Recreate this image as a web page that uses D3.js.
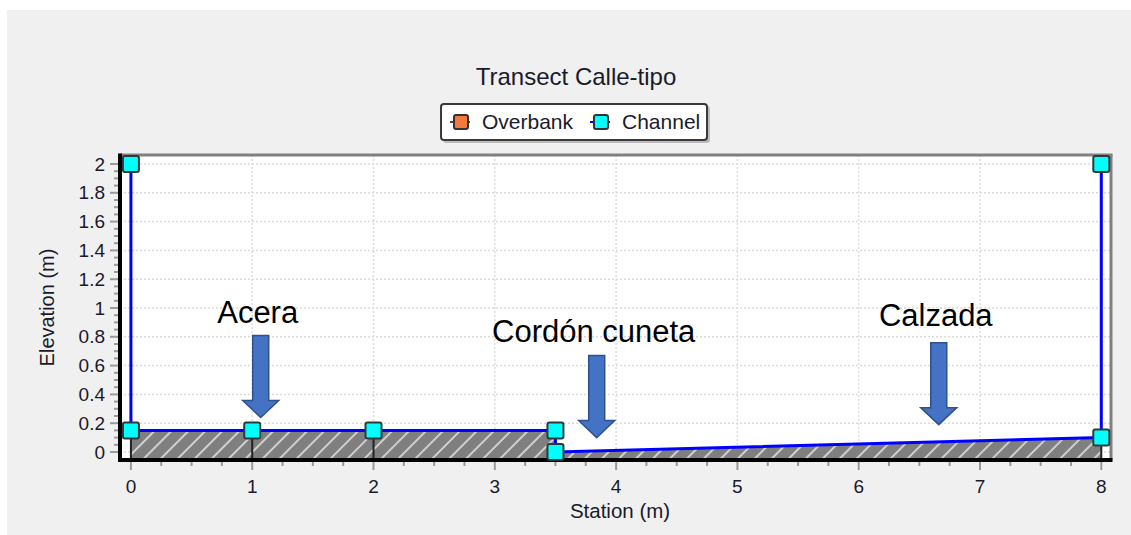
<!DOCTYPE html>
<html>
<head>
<meta charset="utf-8">
<script src="https://cdn.jsdelivr.net/npm/d3@7"></script>
<style>
  html, body { margin: 0; padding: 0; background: #ffffff; }
  svg { display: block; font-family: "Liberation Sans", Arial, sans-serif; }
</style>
</head>
<body>
<svg id="chart" width="1131" height="535"></svg>
<script>
// ---- data ----
const chartTitle = "Transect Calle-tipo";
const legendLabels = ["Overbank", "Channel"];
const stations   = [0, 0, 1, 2, 3.5, 3.5, 8, 8];
const elevations = [2, 0.15, 0.15, 0.15, 0.15, 0, 0.1, 2];
const xTickValues = [0, 1, 2, 3, 4, 5, 6, 7, 8];
const yTickValues = [0, 0.2, 0.4, 0.6, 0.8, 1, 1.2, 1.4, 1.6, 1.8, 2];
const annotationLabels = ["Acera", "Cordón cuneta", "Calzada"];
const annotationStations = [1.07, 3.84, 6.66];
const annotationElevations = [0.24, 0.10, 0.19];
const xLabel = "Station (m)";
const yLabel = "Elevation (m)";

// ---- layout ----
const svg = d3.select("#chart");
const W = 1131, H = 535;
const plot = { left: 120, right: 1111, top: 155, bottom: 460 };

svg.append("rect").attr("x", 7).attr("y", 10).attr("width", W - 7).attr("height", H - 10).attr("fill", "#f0f0f0");

const x = d3.scaleLinear().domain([-0.09, 8.08]).range([plot.left, plot.right]);
const y = d3.scaleLinear().domain([-0.0556, 2.0625]).range([plot.bottom, plot.top]);

// defs: hatch + clip
const defs = svg.append("defs");
const pat = defs.append("pattern").attr("id", "hatch").attr("patternUnits", "userSpaceOnUse")
  .attr("width", 12).attr("height", 12).attr("patternTransform", "rotate(45)");
pat.append("rect").attr("width", 12).attr("height", 12).attr("fill", "#7f7f7f");
pat.append("line").attr("x1", 6).attr("y1", 0).attr("x2", 6).attr("y2", 12)
  .attr("stroke", "#d8d8d8").attr("stroke-width", 1.8);
defs.append("clipPath").attr("id", "clip").append("rect")
  .attr("x", plot.left).attr("y", plot.top).attr("width", plot.right - plot.left).attr("height", plot.bottom - plot.top);

// plot background
svg.append("rect").attr("x", plot.left).attr("y", plot.top)
  .attr("width", plot.right - plot.left).attr("height", plot.bottom - plot.top).attr("fill", "#ffffff");

// grid
const grid = svg.append("g").attr("stroke", "#dcdcdc").attr("stroke-width", 1.5).attr("stroke-dasharray", "2,2");
grid.selectAll("line.gx").data(xTickValues).join("line")
  .attr("x1", d => x(d)).attr("x2", d => x(d)).attr("y1", plot.top).attr("y2", plot.bottom);
grid.selectAll("line.gy").data(yTickValues).join("line")
  .attr("y1", d => y(d)).attr("y2", d => y(d)).attr("x1", plot.left).attr("x2", plot.right);

// ground fill
const pts = stations.map((s, i) => [s, elevations[i]]);
const ground = pts.slice(1, 7);
const groundArea = d3.area().x(d => x(d[0])).y0(plot.bottom).y1(d => y(d[1]));
svg.append("path").datum(ground).attr("d", groundArea).attr("fill", "url(#hatch)").attr("clip-path", "url(#clip)");

// vertical station lines
const dropIdx = [1, 2, 3, 6];
svg.append("g").selectAll("line").data(dropIdx).join("line")
  .attr("x1", i => x(stations[i])).attr("x2", i => x(stations[i]))
  .attr("y1", i => y(elevations[i])).attr("y2", plot.bottom)
  .attr("stroke", "#222").attr("stroke-width", 2);

// profile line
const line = d3.line().x(d => x(d[0])).y(d => y(d[1]));
svg.append("path").datum(pts).attr("d", line).attr("fill", "none")
  .attr("stroke", "#0000ff").attr("stroke-width", 3).attr("clip-path", "url(#clip)");

// frame
svg.append("line").attr("x1", plot.left).attr("x2", plot.right + 1.5).attr("y1", plot.top).attr("y2", plot.top)
  .attr("stroke", "#808080").attr("stroke-width", 3);
svg.append("line").attr("x1", plot.right).attr("x2", plot.right).attr("y1", plot.top).attr("y2", plot.bottom)
  .attr("stroke", "#808080").attr("stroke-width", 3);
svg.append("line").attr("x1", plot.left).attr("x2", plot.right + 1.5).attr("y1", plot.bottom).attr("y2", plot.bottom)
  .attr("stroke", "#000").attr("stroke-width", 4);
svg.append("line").attr("x1", plot.left).attr("x2", plot.left).attr("y1", plot.top - 1.5).attr("y2", plot.bottom + 2)
  .attr("stroke", "#000").attr("stroke-width", 4);

// markers
const ms = 16;
svg.append("g").selectAll("rect").data(pts).join("rect")
  .attr("x", d => x(d[0]) - ms / 2).attr("y", d => y(d[1]) - ms / 2)
  .attr("width", ms).attr("height", ms).attr("rx", 2)
  .attr("fill", "#00ffff").attr("stroke", "#2b3a3a").attr("stroke-width", 2);

// axes ticks
const tickColor = "#9a9a9a";
const xMinor = d3.range(0, 8.001, 0.25);
svg.append("g").selectAll("line").data(xMinor).join("line")
  .attr("x1", d => x(d)).attr("x2", d => x(d))
  .attr("y1", plot.bottom + 2).attr("y2", d => plot.bottom + (Math.abs(d - Math.round(d)) < 1e-6 ? 10 : 6))
  .attr("stroke", tickColor).attr("stroke-width", 2);
const yMinor = d3.range(0, 2.001, 0.05);
svg.append("g").selectAll("line").data(yMinor).join("line")
  .attr("y1", d => y(d)).attr("y2", d => y(d))
  .attr("x2", plot.left - 2).attr("x1", d => plot.left - (Math.abs(d * 5 - Math.round(d * 5)) < 1e-6 ? 10 : 6))
  .attr("stroke", tickColor).attr("stroke-width", 2);

const labelColor = "#1a1a2a";
svg.append("g").selectAll("text").data(xTickValues).join("text")
  .attr("x", d => x(d)).attr("y", 493).attr("text-anchor", "middle")
  .attr("font-size", 19).attr("fill", labelColor).text(d => d3.format("~g")(d));
svg.append("g").selectAll("text").data(yTickValues).join("text")
  .attr("x", 105).attr("y", d => y(d)).attr("dy", "0.35em").attr("text-anchor", "end")
  .attr("font-size", 19).attr("fill", labelColor).text(d => d3.format("~g")(d));

svg.append("text").attr("x", 620).attr("y", 518).attr("text-anchor", "middle")
  .attr("font-size", 20.5).attr("fill", labelColor).text(xLabel);
svg.append("text").attr("transform", `translate(54,${(plot.top + plot.bottom) / 2}) rotate(-90)`)
  .attr("text-anchor", "middle").attr("font-size", 20).attr("fill", labelColor).text(yLabel);

// title
svg.append("text").attr("x", 576).attr("y", 85).attr("text-anchor", "middle")
  .attr("font-size", 24).attr("fill", labelColor).text(chartTitle);

// legend
const lg = svg.append("g");
lg.append("rect").attr("x", 443).attr("y", 106).attr("width", 267).attr("height", 37).attr("rx", 3)
  .attr("fill", "#9a9a9a").attr("opacity", 0.6);
lg.append("rect").attr("x", 441).attr("y", 104).attr("width", 266).attr("height", 36).attr("rx", 3)
  .attr("fill", "#ffffff").attr("stroke", "#3a3a3a").attr("stroke-width", 2);
const legendColors = ["#f47a3c", "#00ffff"];
const legendX = [454, 594];
legendLabels.forEach((lab, i) => {
  lg.append("line").attr("x1", legendX[i] - 4).attr("x2", legendX[i] + 16).attr("y1", 122).attr("y2", 122)
    .attr("stroke", i === 0 ? "#7a3a1a" : "#0000ff").attr("stroke-width", 2);
  lg.append("rect").attr("x", legendX[i]).attr("y", 115).attr("width", 14).attr("height", 14).attr("rx", 2)
    .attr("fill", legendColors[i]).attr("stroke", "#333").attr("stroke-width", 2);
  lg.append("text").attr("x", legendX[i] + 28).attr("y", 129).attr("font-size", 21)
    .attr("fill", labelColor).text(lab);
});

// annotations with block arrows
const arrowLen = 82, shaftW = 16, headW = 36, headH = 17;
const textGap = [12, 14, 17];
annotationLabels.forEach((lab, i) => {
  const tx = x(annotationStations[i]), ty = y(annotationElevations[i]);
  const top = ty - arrowLen, hb = ty - headH;
  const p = [[tx - shaftW / 2, top], [tx + shaftW / 2, top], [tx + shaftW / 2, hb], [tx + headW / 2, hb],
             [tx, ty], [tx - headW / 2, hb], [tx - shaftW / 2, hb]];
  svg.append("path").attr("d", "M" + p.map(q => q.join(",")).join("L") + "Z")
    .attr("fill", "#4472c4").attr("stroke", "#2f528f").attr("stroke-width", 1.5);
  svg.append("text").attr("x", tx - 3).attr("y", top - textGap[i]).attr("text-anchor", "middle")
    .attr("font-size", 31).attr("fill", "#000").text(lab);
});
</script>
</body>
</html>
